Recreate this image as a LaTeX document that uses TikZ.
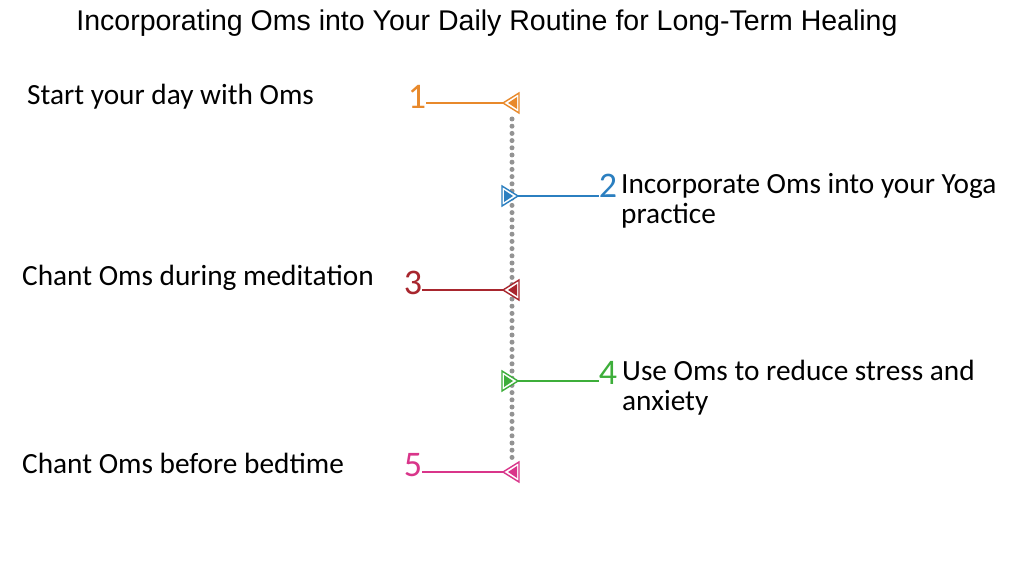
\documentclass[tikz,border=0pt]{standalone}
\usepackage{fontspec}
\setmainfont{Carlito}
\newfontfamily\titlefont{Liberation Sans}
\usetikzlibrary{calc}
\definecolor{cA}{HTML}{E8892B}
\definecolor{cB}{HTML}{2B7FC0}
\definecolor{cC}{HTML}{A8262E}
\definecolor{cD}{HTML}{3DAE3A}
\definecolor{cE}{HTML}{D9358A}
\newcommand\lefttri[2]{\draw[#2,line width=1.4pt,fill=white] (#1) -- ++(16,-10) -- ++(0,20) -- cycle;
  \fill[#2] ($(#1)+(5,0)$) -- ++(9,-6) -- ++(0,12) -- cycle;}
\newcommand\righttri[2]{\draw[#2,line width=1.4pt,fill=white] (#1) -- ++(-16,-10) -- ++(0,20) -- cycle;
  \fill[#2] ($(#1)+(-5,0)$) -- ++(-9,-6) -- ++(0,12) -- cycle;}
\begin{document}
\begin{tikzpicture}[x=1pt,y=-1pt,
  lbl/.style={anchor=west,font=\fontsize{29.3}{30}\selectfont,align=left,inner sep=0pt},
  num/.style={font=\fontsize{36}{36}\selectfont,inner sep=0pt},
  conn/.style={line width=1.3pt}]
\useasboundingbox (0,0) rectangle (1024,572);
\fill[white] (0,0) rectangle (1024,572);
\node[font=\titlefont\fontsize{28.5}{32}\selectfont] (title) at (487,23) {Incorporating Oms into Your Daily Routine for Long-Term Healing};
\draw[gray!85,line width=5pt,dash pattern=on 0pt off 7.2pt,line cap=round] (512,119) -- (512,462);
\coordinate (t1) at (503,103);
\coordinate (t2) at (518,196);
\coordinate (t3) at (503,290);
\coordinate (t4) at (518,381);
\coordinate (t5) at (503,472);
\node[num,text=cA] (n1) at (417,97) {1};
\node[num,text=cB] (n2) at (608,186) {2};
\node[num,text=cC] (n3) at (413,283) {3};
\node[num,text=cD] (n4) at (608,373) {4};
\node[num,text=cE] (n5) at (413,465) {5};
\draw[conn,cA] (n1.east|-t1) -- (t1);
\draw[conn,cB] (t2) -- (n2.west|-t2);
\draw[conn,cC] (n3.east|-t3) -- (t3);
\draw[conn,cD] (t4) -- (n4.west|-t4);
\draw[conn,cE] (n5.east|-t5) -- (t5);
\lefttri{t1}{cA}
\righttri{t2}{cB}
\lefttri{t3}{cC}
\righttri{t4}{cD}
\lefttri{t5}{cE}
\node[lbl] (l1) at (27,97) {Start your day with Oms};
\node[lbl,anchor=north west] (l2) at (621,173) {Incorporate Oms into your Yoga\\practice};
\node[lbl] (l3) at (22,278) {Chant Oms during meditation};
\node[lbl,anchor=north west] (l4) at (622,360) {Use Oms to reduce stress and\\anxiety};
\node[lbl] (l5) at (22,463) {Chant Oms before bedtime};
\end{tikzpicture}
\end{document}
